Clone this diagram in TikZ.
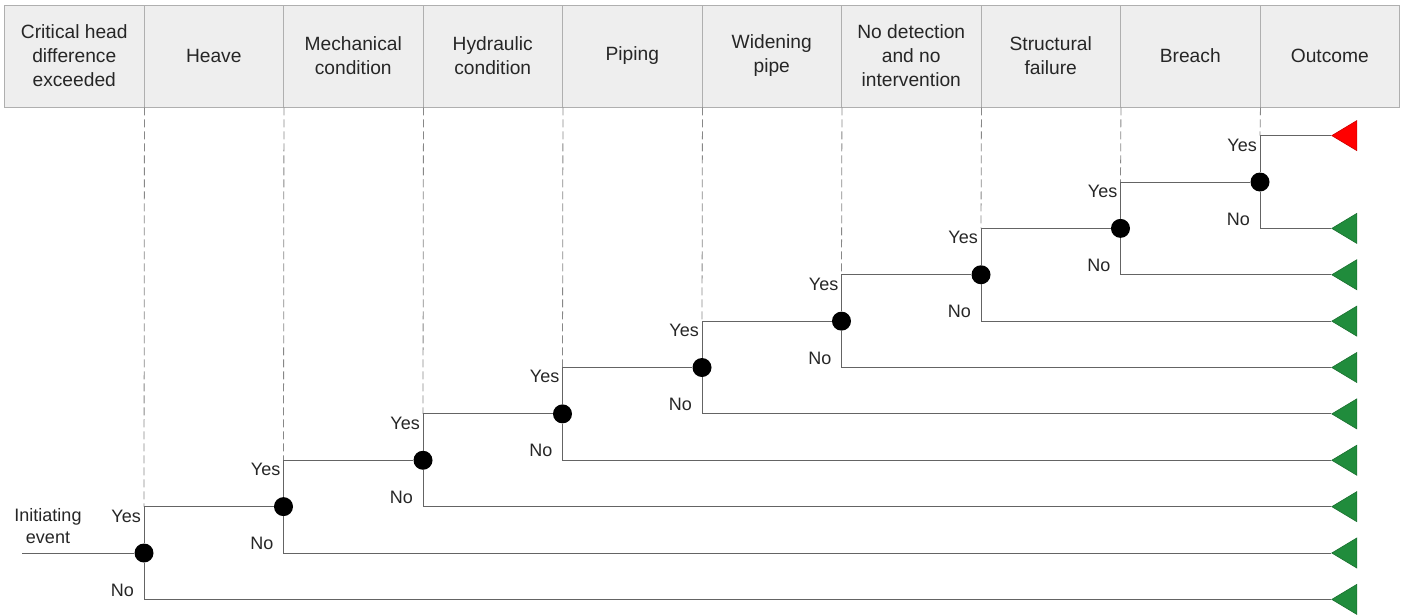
\documentclass[tikz,border=0pt]{standalone}
\usepackage{fontspec}
\setmainfont{Liberation Sans}
\usetikzlibrary{shapes.geometric, positioning}
\definecolor{headfill}{RGB}{238,238,238}
\definecolor{headline}{RGB}{175,175,175}
\definecolor{branchgray}{RGB}{100,100,100}
\definecolor{guidegray}{RGB}{135,135,135}
\definecolor{failred}{RGB}{255,0,0}
\definecolor{safegreen}{RGB}{32,140,60}

\tikzset{
  headbox/.style={draw=headline, fill=headfill, line width=0.9pt, minimum width=139.5pt,
    minimum height=102pt, align=center, inner sep=2pt,
    font=\fontsize{19.2}{24}\selectfont, text=black!85},
  event/.style={circle, fill=black, minimum size=19pt, inner sep=0pt},
  % after the rotation: height = apex to base, width = base
  outcome/.style={isosceles triangle, isosceles triangle stretches, shape border rotate=180,
    minimum width=30pt, minimum height=25pt, inner sep=0pt, anchor=apex,
    fill=#1, draw=#1!80!black, line width=0.6pt},
  lbl/.style={inner sep=0pt, font=\fontsize{18}{22}\selectfont, text=black!85},
  branch/.style={draw=branchgray, line width=1pt},
  guide/.style={draw=guidegray, line width=0.8pt, dash pattern=on 8pt off 4pt}
}

\begin{document}
\begin{tikzpicture}[x=1pt, y=-1pt]
    \useasboundingbox (0,0) rectangle (1402,614);

    % Column headers
    \foreach \lab [count=\k] in {{Critical head\\difference\\exceeded}, Heave,
        {Mechanical\\condition}, {Hydraulic\\condition}, Piping, {Widening\\pipe},
        {No detection\\and no\\intervention}, {Structural\\failure}, Breach, Outcome}
      \node[headbox] (h\k) at ({139.5*\k-65.25},56) {\lab};

    % Branch points, outcomes and labels
    \foreach \k in {1,...,9} {
      \pgfmathsetmacro{\bx}{144+139.5*(\k-1)}
      \pgfmathsetmacro{\by}{553-46.375*(\k-1)}
      \coordinate (c\k) at (\bx,\by-46.375);
      \node[outcome=safegreen] (n\k) at (1331,\by+46.375) {};
      \node[lbl, anchor=east] (yes\k) at (\bx-3,\by-37) {Yes};
      \node[lbl, anchor=east] (no\k) at (\bx-10,\by+37) {No};
    }
    \node[outcome=failred] (o0) at (1331,135.6) {};

    % Initiating event
    \node[lbl, align=center] (init) at (48,526) {Initiating\\event};
    \coordinate (start) at (22,553);

    % Dashed guides from the headers
    \foreach \k in {1,...,9}
      \draw[guide] (h\k.south east) -- (c\k);

    % Event dots
    \foreach \k in {1,...,9}
      \node[event] (b\k) at ({144+139.5*(\k-1)},{553-46.375*(\k-1)}) {};

    % Yes / No branches
    \draw[branch] (start) -- (b1);
    \foreach \k in {1,...,8} {
      \pgfmathtruncatemacro{\nx}{\k+1}
      \draw[branch] (b\k) |- (b\nx);
    }
    \draw[branch] (b9) |- (o0);
    \foreach \k in {1,...,9}
      \draw[branch] (b\k) |- (n\k);

\end{tikzpicture}
\end{document}
